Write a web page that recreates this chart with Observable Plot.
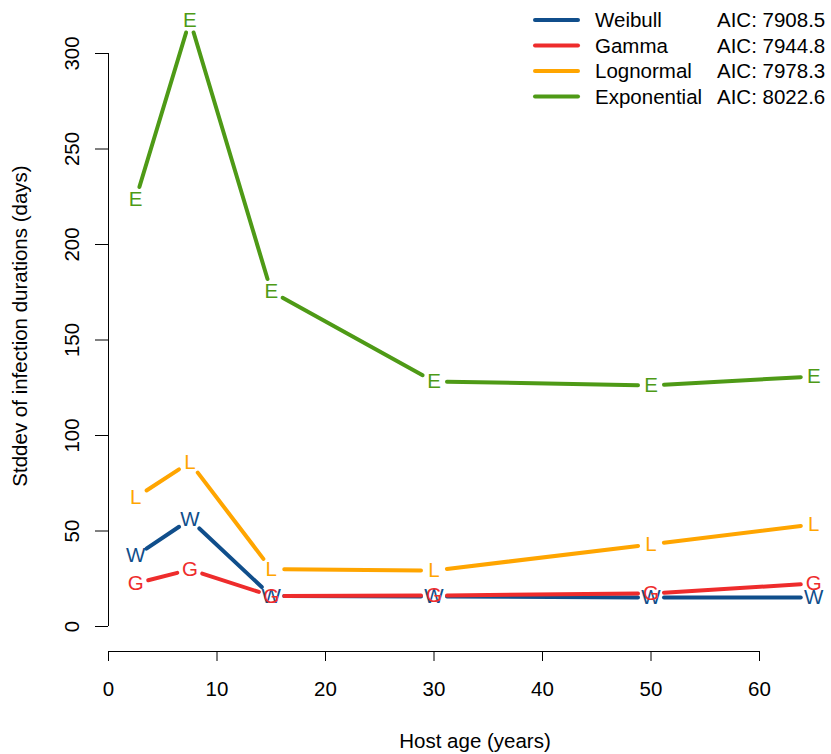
<!DOCTYPE html>
<html><head><meta charset="utf-8">
<script src="https://cdn.jsdelivr.net/npm/d3@7"></script>
<script src="https://cdn.jsdelivr.net/npm/@observablehq/plot@0.6"></script>
<style>
body{margin:0;background:#fff}
#chart{position:relative;width:831px;height:754px}
</style>
</head><body><div id="chart"></div>
<script>
// ---- data ----
const ages = [2.5, 7.5, 15, 30, 50, 65];
const models = ["Weibull", "Gamma", "Lognormal", "Exponential"];
const symbols = ["W", "G", "L", "E"];
const aic = [7908.5, 7944.8, 7978.3, 8022.6];
const colors = ["#104E8B", "#EE2C2C", "#FFA500", "#4E9A16"];
const weibull = [37, 56, 16, 15.7, 15.2, 15.2];
const gamma = [22.5, 29.8, 16, 16.2, 17.3, 22.5];
const lognormal = [67.5, 86, 30, 29.3, 43, 53.5];
const exponential = [223.6, 317.5, 175.4, 128.3, 126.2, 130.9];
const xTicks = [0, 10, 20, 30, 40, 50, 60];
const yTicks = [0, 50, 100, 150, 200, 250, 300];
const xLabel = "Host age (years)";
const yLabel = "Stddev of infection durations (days)";

const series = [weibull, gamma, lognormal, exponential];
const FONT = "'Liberation Sans', Arial, Helvetica, sans-serif";
const FS = 20.5;
const GAP = 13;

function shorten(index, scales, values, dimensions, context, next) {
  const {x1, y1, x2, y2} = values;
  const X1 = Array.from(x1), Y1 = Array.from(y1), X2 = Array.from(x2), Y2 = Array.from(y2);
  for (const i of index) {
    const dx = x2[i] - x1[i], dy = y2[i] - y1[i];
    const d = Math.hypot(dx, dy);
    const f = d > 2 * GAP ? GAP / d : 0.5;
    X1[i] = x1[i] + dx * f; Y1[i] = y1[i] + dy * f;
    X2[i] = x2[i] - dx * f; Y2[i] = y2[i] - dy * f;
  }
  return next(index, scales, {...values, x1: X1, y1: Y1, x2: X2, y2: Y2}, dimensions, context);
}

const marks = [];
series.forEach((vals, m) => {
  const pts = ages.map((a, j) => ({age: a, sd: vals[j]}));
  const segs = pts.slice(1).map((p, j) => ({x1: pts[j].age, y1: pts[j].sd, x2: p.age, y2: p.sd}));
  marks.push(Plot.link(segs, {x1: "x1", y1: "y1", x2: "x2", y2: "y2", stroke: colors[m],
    strokeWidth: 4, strokeLinecap: "round", render: shorten}));
  marks.push(Plot.text(pts, {x: "age", y: "sd", text: () => symbols[m], fill: colors[m],
    fontSize: FS, fontFamily: FONT, lineAnchor: "middle", textAnchor: "middle"}));
});

const chart = Plot.plot({
  width: 831, height: 754,
  marginLeft: 108, marginRight: 0, marginTop: 0, marginBottom: 103,
  style: {fontFamily: FONT, fontSize: FS + "px", background: "#fff", overflow: "visible"},
  x: {domain: [0, 60], range: [108, 759], clamp: false},
  y: {domain: [0, 300], range: [626, 53]},
  marks: [
    Plot.ruleY([0], {x1: 0, x2: 60, dy: 25, stroke: "black", strokeWidth: 1}),
    Plot.ruleX([0], {y1: 0, y2: 300, stroke: "black", strokeWidth: 1}),
    Plot.axisX(xTicks, {tickSize: 10, tickPadding: 20, fontSize: FS, label: null, stroke: "black", strokeOpacity: 1}),
    Plot.axisY(yTicks, {tickSize: 13, tickFormat: () => "", label: null, strokeOpacity: 1}),
    Plot.text(yTicks, {y: d => d, text: d => String(d), frameAnchor: "left", rotate: -90, dx: -36.5,
      textAnchor: "middle", lineAnchor: "middle", fontSize: FS}),
    Plot.text([xLabel], {text: d => d, frameAnchor: "bottom", dx: 5, dy: 90, textAnchor: "middle", lineAnchor: "middle", fontSize: FS}),
    Plot.text([yLabel], {text: d => d, frameAnchor: "left", rotate: -90, dx: -88, dy: 0, textAnchor: "middle", lineAnchor: "middle", fontSize: FS}),
    ...marks
  ]
});
document.getElementById("chart").appendChild(chart);

// ---- legend (top right) ----
const svg = d3.select(chart);
const lg = svg.append("g").attr("font-family", FONT).attr("font-size", FS).attr("text-anchor", "start");
models.forEach((name, i) => {
  const y = 20 + i * 25.5;
  lg.append("line").attr("x1", 535).attr("x2", 578).attr("y1", y).attr("y2", y)
    .attr("stroke", colors[i]).attr("stroke-width", 4).attr("stroke-linecap", "round");
  const t = lg.append("text").attr("x", 595).attr("y", y).attr("dy", "0.36em").attr("fill", "#000").text(name);
  const w = t.node().getComputedTextLength();
  lg.append("text").attr("x", Math.max(717, 595 + w + 8)).attr("y", y).attr("dy", "0.36em")
    .attr("fill", "#000").text("AIC: " + aic[i].toFixed(1));
});
</script>
</body></html>
